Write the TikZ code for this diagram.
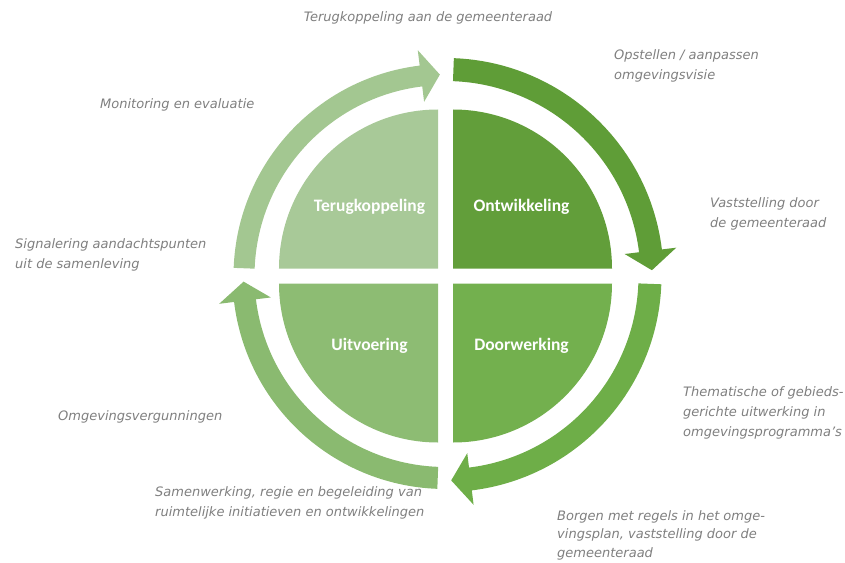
\documentclass[tikz,border=0pt]{standalone}
\usepackage{fontspec}
\newfontfamily\notefont{DejaVu Sans}
\newfontfamily\quadfont{Carlito}
\definecolor{notegrey}{HTML}{7F7F7F}
\definecolor{quadterug}{HTML}{A8C998}
\definecolor{quadontw}{HTML}{629E3A}
\definecolor{quaduitv}{HTML}{8DBC73}
\definecolor{quaddoorw}{HTML}{73B04E}
\definecolor{arrowterug}{HTML}{A3C791}
\definecolor{arrowontw}{HTML}{5F9D37}
\definecolor{arrowdoorw}{HTML}{6EAE48}
\definecolor{arrowuitv}{HTML}{8ABA70}
\tikzset{
  note/.style={font=\notefont\itshape\fontsize{13}{20}\selectfont, text=notegrey, align=left, anchor=west, inner sep=0pt},
  quadlabel/.style={font=\quadfont\bfseries\fontsize{17.5}{20}\selectfont, text=white, inner sep=0pt}
}
\begin{document}
\begin{tikzpicture}[x=1pt,y=1pt]
  \useasboundingbox (-445.5,-286) rectangle (399.5,276);
  \foreach \q/\sx/\sy/\c in {90/-7.5/7.5/quadterug, 0/7.5/7.5/quadontw, 180/-7.5/-7.5/quaduitv, 270/7.5/-7.5/quaddoorw}
    \fill[\c,shift={(\sx,\sy)}] (0,0) -- (\q:159) arc[start angle=\q,delta angle=90,radius=159] -- cycle;
  \foreach \a/\ri/\ro/\c in {180/191/212/arrowterug, 90/195/218/arrowontw, 0/193/216/arrowdoorw, -90/191/213/arrowuitv}
    \fill[\c] ({\a-2.2}:\ro) arc[start angle={\a-2.2},end angle={\a-83},radius=\ro]
      -- ({\a-83}:{(\ri+\ro)/2+26}) -- ({\a-88.4}:{(\ri+\ro)/2}) -- ({\a-83}:{(\ri+\ro)/2-26})
      -- ({\a-83}:\ri) arc[start angle={\a-83},end angle={\a-2.2},radius=\ri] -- cycle;
  \node[quadlabel] (terug) at (-76,69) {Terugkoppeling};
  \node[quadlabel] (ontw) at (76,69) {Ontwikkeling};
  \node[quadlabel] (uitv) at (-76,-70) {Uitvoering};
  \node[quadlabel] (doorw) at (76,-70) {Doorwerking};
  \node[note,anchor=center] (terugraad) at (-17.5,258) {Terugkoppeling aan de gemeenteraad};
  \node[note] (opstellen) at (168.5,210) {Opstellen / aanpassen\\omgevingsvisie};
  \node[note] (monitoring) at (-345.5,171) {Monitoring en evaluatie};
  \node[note] (vaststelling) at (264.5,62) {Vaststelling door\\de gemeenteraad};
  \node[note] (signalering) at (-430.5,21) {Signalering aandachtspunten\\uit de samenleving};
  \node[note] (vergunningen) at (-387.5,-141) {Omgevingsvergunningen};
  \node[note] (thematisch) at (237.5,-137) {Thematische of gebieds-\\gerichte uitwerking in\\omgevingsprogramma’s};
  \node[note] (samenwerking) at (-290.5,-227) {Samenwerking, regie en begeleiding van\\ruimtelijke initiatieven en ontwikkelingen};
  \node[note,font=\notefont\itshape\fontsize{13}{18.5}\selectfont] (borgen) at (111.5,-259) {Borgen met regels in het omge-\\vingsplan, vaststelling door de\\gemeenteraad};
\end{tikzpicture}
\end{document}
